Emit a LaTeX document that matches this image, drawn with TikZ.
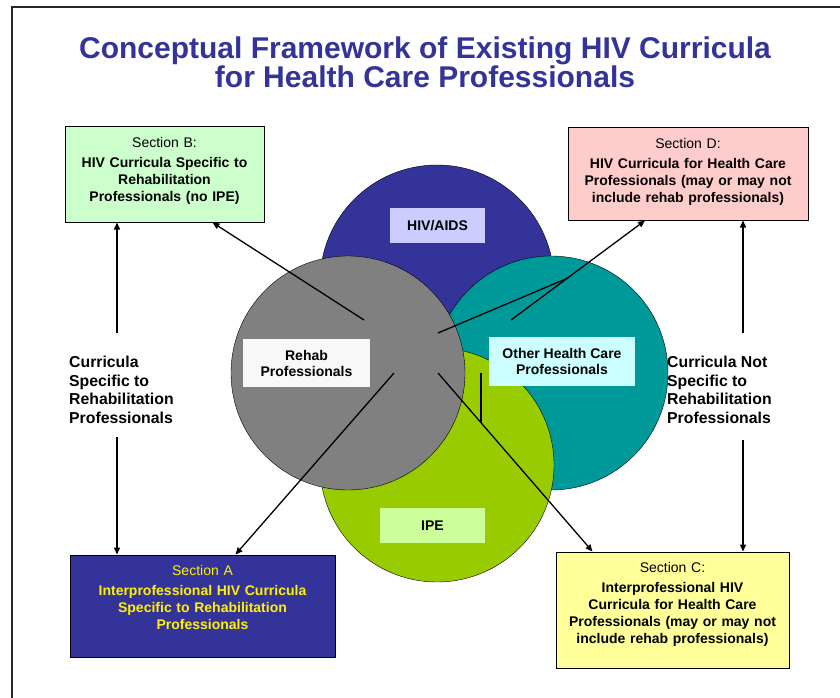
\documentclass[tikz,border=0pt]{standalone}
\usepackage{fontspec}
\setmainfont{Liberation Sans}
\usetikzlibrary{arrows.meta}

\definecolor{hivblue}{HTML}{333399}
\definecolor{otherteal}{HTML}{009999}
\definecolor{ipegreen}{HTML}{99CC00}
\definecolor{rehabgray}{HTML}{808080}
\definecolor{secBfill}{HTML}{CCFFCC}
\definecolor{secCfill}{HTML}{FFFF99}
\definecolor{secDfill}{HTML}{FFCCCC}
\definecolor{hivtagfill}{HTML}{CCCCFF}
\definecolor{othertagfill}{HTML}{CCFFFF}
\definecolor{ipetagfill}{HTML}{CCFF99}
\definecolor{rehabtagfill}{HTML}{F8F8F8}

\tikzset{
    venn/.style={circle, draw=black, thin, minimum size=234pt, inner sep=0pt},
    tag/.style={inner sep=0pt, align=center, font=\fontsize{14}{16}\selectfont\bfseries},
    secbox/.style={draw=black, line width=1pt, text width=#1, inner sep=0pt, align=center,
        text height=20pt, font=\fontsize{14}{17}\selectfont},
    side/.style={anchor=west, inner sep=0pt, align=left, font=\fontsize{15.8}{18.5}\selectfont\bfseries},
    arr/.style={line width=1.3pt, -{Triangle[length=7pt,width=6pt]}},
    link/.style={line width=1.3pt}
}

\begin{document}
\begin{tikzpicture}[x=1pt,y=-1pt]
    \useasboundingbox (0,0) rectangle (840,698);
    \draw[line width=2pt, black!85] (12,698) -- (12,7) -- (840,7);

    \node[align=center, text=hivblue, font=\fontsize{30}{29}\selectfont\bfseries] (title) at (425,62)
        {Conceptual Framework of Existing HIV Curricula\\for Health Care Professionals};

    \node[venn, fill=hivblue] (hiv) at (437,282) {};
    \node[venn, fill=otherteal] (other) at (551,373) {};
    \node[venn, fill=ipegreen] (ipe) at (437,465) {};
    \node[venn, fill=rehabgray] (rehab) at (348,373) {};

    \node[tag, fill=hivtagfill, minimum width=95pt, minimum height=35pt] (hivtag) at (437.5,225.5) {HIV/AIDS};
    \node[tag, fill=rehabtagfill, minimum width=127pt, minimum height=48pt] (rehabtag) at (306.5,363) {Rehab\\Professionals};
    \node[tag, fill=othertagfill, minimum width=146pt, minimum height=49pt] (othertag) at (562,361.5) {Other Health Care\\Professionals};
    \node[tag, fill=ipetagfill, minimum width=105pt, minimum height=35pt] (ipetag) at (432.5,525.5) {IPE};

    \node[secbox=199pt, fill=secBfill, text depth=75pt] (secB) at (164.5,174.5)
        {Section B:\\[3pt]{\bfseries HIV Curricula Specific to\\Rehabilitation\\Professionals (no IPE)}};
    \node[secbox=240pt, fill=secDfill, text depth=72pt] (secD) at (688,174)
        {Section D:\\[3pt]{\bfseries HIV Curricula for Health Care\\Professionals (may or may not\\include rehab professionals)}};
    \node[secbox=265pt, fill=hivblue, text=yellow, text depth=82pt] (secA) at (202.5,606)
        {Section A\\[3pt]{\bfseries Interprofessional HIV Curricula\\Specific to Rehabilitation\\Professionals}};
    \node[secbox=233pt, fill=secCfill, text depth=96pt] (secC) at (672.5,610)
        {Section C:\\[3pt]{\bfseries Interprofessional HIV\\Curricula for Health Care\\Professionals (may or may not\\include rehab professionals)}};

    \node[side] (rehabside) at (69,390) {Curricula\\Specific to\\Rehabilitation\\Professionals};
    \node[side] (otherside) at (667,390) {Curricula Not\\Specific to\\Rehabilitation\\Professionals};

    \coordinate (bUp) at (117,333);
    \coordinate (aDown) at (117,437);
    \coordinate (dUp) at (743,333);
    \coordinate (cDown) at (743,440);
    \coordinate (toB) at (364,320);
    \coordinate (toA) at (394,373);
    \coordinate (toC) at (438,373);
    \coordinate (toC2) at (481,373);
    \coordinate (joinC) at (481,423);
    \coordinate (toD) at (438,333);
    \coordinate (toD2) at (511,320);
    \coordinate (joinD) at (568,278);

    \draw[arr] (bUp) -- (bUp |- secB.south);
    \draw[arr] (aDown) -- (aDown |- secA.north);
    \draw[arr] (dUp) -- (dUp |- secD.south);
    \draw[arr] (cDown) -- (cDown |- secC.north);

    \draw[arr] (toB) -- ([xshift=48pt]secB.south);
    \draw[arr] (toA) -- ([xshift=33pt]secA.north);
    \draw[arr] (toC) -- ([xshift=-80pt]secC.north);
    \draw[link] (toC2) -- (joinC);
    \draw[arr] (toD2) -- ([xshift=-43pt]secD.south);
    \draw[link] (toD) -- (joinD);
\end{tikzpicture}
\end{document}
